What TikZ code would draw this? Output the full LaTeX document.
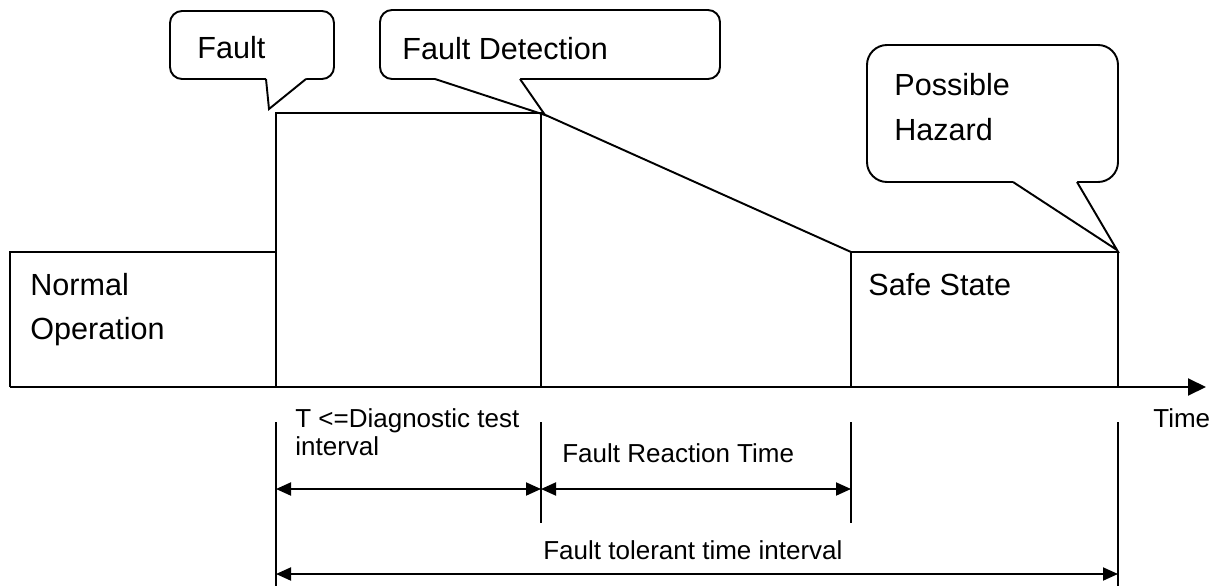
\documentclass[tikz,border=0pt]{standalone}
\usepackage{fontspec}
\setmainfont{Liberation Sans}
\usetikzlibrary{arrows.meta}
\tikzset{
  outline/.style={line width=1.1pt},
  bigtext/.style={inner sep=0pt, anchor=base west, font=\fontsize{17.4}{20}\selectfont},
  smalltext/.style={inner sep=0pt, anchor=base west, font=\fontsize{14.8}{17}\selectfont},
  span/.style={line width=1.1pt, {Triangle[length=0.3cm,width=0.26cm]}-{Triangle[length=0.3cm,width=0.26cm]}},
}
\begin{document}
\begin{tikzpicture}[x=0.02cm, y=-0.02cm]
    \useasboundingbox (0,0) rectangle (1227,588);
    % callouts
    \foreach \xa/\ya/\xb/\yb/\r/\pa/\pb/\tx/\ty in {170/11/334/79/0.24/266/306/269/109, 380/10/720/79/0.24/435/520/545/115, 867/45/1118/182/0.4/1013/1077/1117/250} {
      \draw[outline, rounded corners=\r cm] (\xa,\ya) rectangle (\xb,\yb);
      \fill[white] (\pa,\yb-2) -- (\pa,\yb) -- (\tx,\ty) -- (\pb,\yb) -- (\pb,\yb-2) -- cycle;
      \draw[outline] (\pa,\yb) -- (\tx,\ty) -- (\pb,\yb);
    }
    \node[bigtext] (fault) at (197,59) {Fault};
    \node[bigtext] (detect) at (402,60) {Fault Detection};
    \node[bigtext] (possible) at (894,95) {Possible};
    \node[bigtext] (hazard) at (894,140) {Hazard};
    % states
    \draw[outline] (10,387) -- (10,252) -- (276,252);
    \draw[outline] (276,387) -- (276,113) -- (541,113) -- (541,387);
    \draw[outline] (541,113) -- (851,252) -- (1118,252) -- (1118,387);
    \draw[outline] (851,252) -- (851,387);
    \node[bigtext] (normal) at (30,295) {Normal};
    \node[bigtext] (operation) at (30,339) {Operation};
    \node[bigtext] (safe) at (868,295) {Safe State};
    % time axis
    \coordinate (axisstart) at (10,387);
    \coordinate (axisend) at (1206,387);
    \draw[outline, -{Triangle[length=0.36cm,width=0.34cm]}] (axisstart) -- (axisend);
    \node[smalltext] (time) at (1153,427) {Time};
    % intervals
    \foreach \x/\y in {276/586, 541/523, 851/523, 1118/586} { \draw[outline] (\x,422) -- (\x,\y); }
    \foreach \n/\x in {d0/276, d1/541, d2/851} { \coordinate (\n) at (\x,489); }
    \coordinate (e0) at (276,574);
    \coordinate (e3) at (1118,574);
    \draw[span] (d0) -- (d1);
    \draw[span] (d1) -- (d2);
    \draw[span] (e0) -- (e3);
    \node[smalltext] (diag) at (295,427) {T <=Diagnostic test};
    \node[smalltext] (interval) at (295,455) {interval};
    \node[smalltext] (reaction) at (562,462) {Fault Reaction Time};
    \node[smalltext] (tolerant) at (543,559) {Fault tolerant time interval};
  \end{tikzpicture}
\end{document}
